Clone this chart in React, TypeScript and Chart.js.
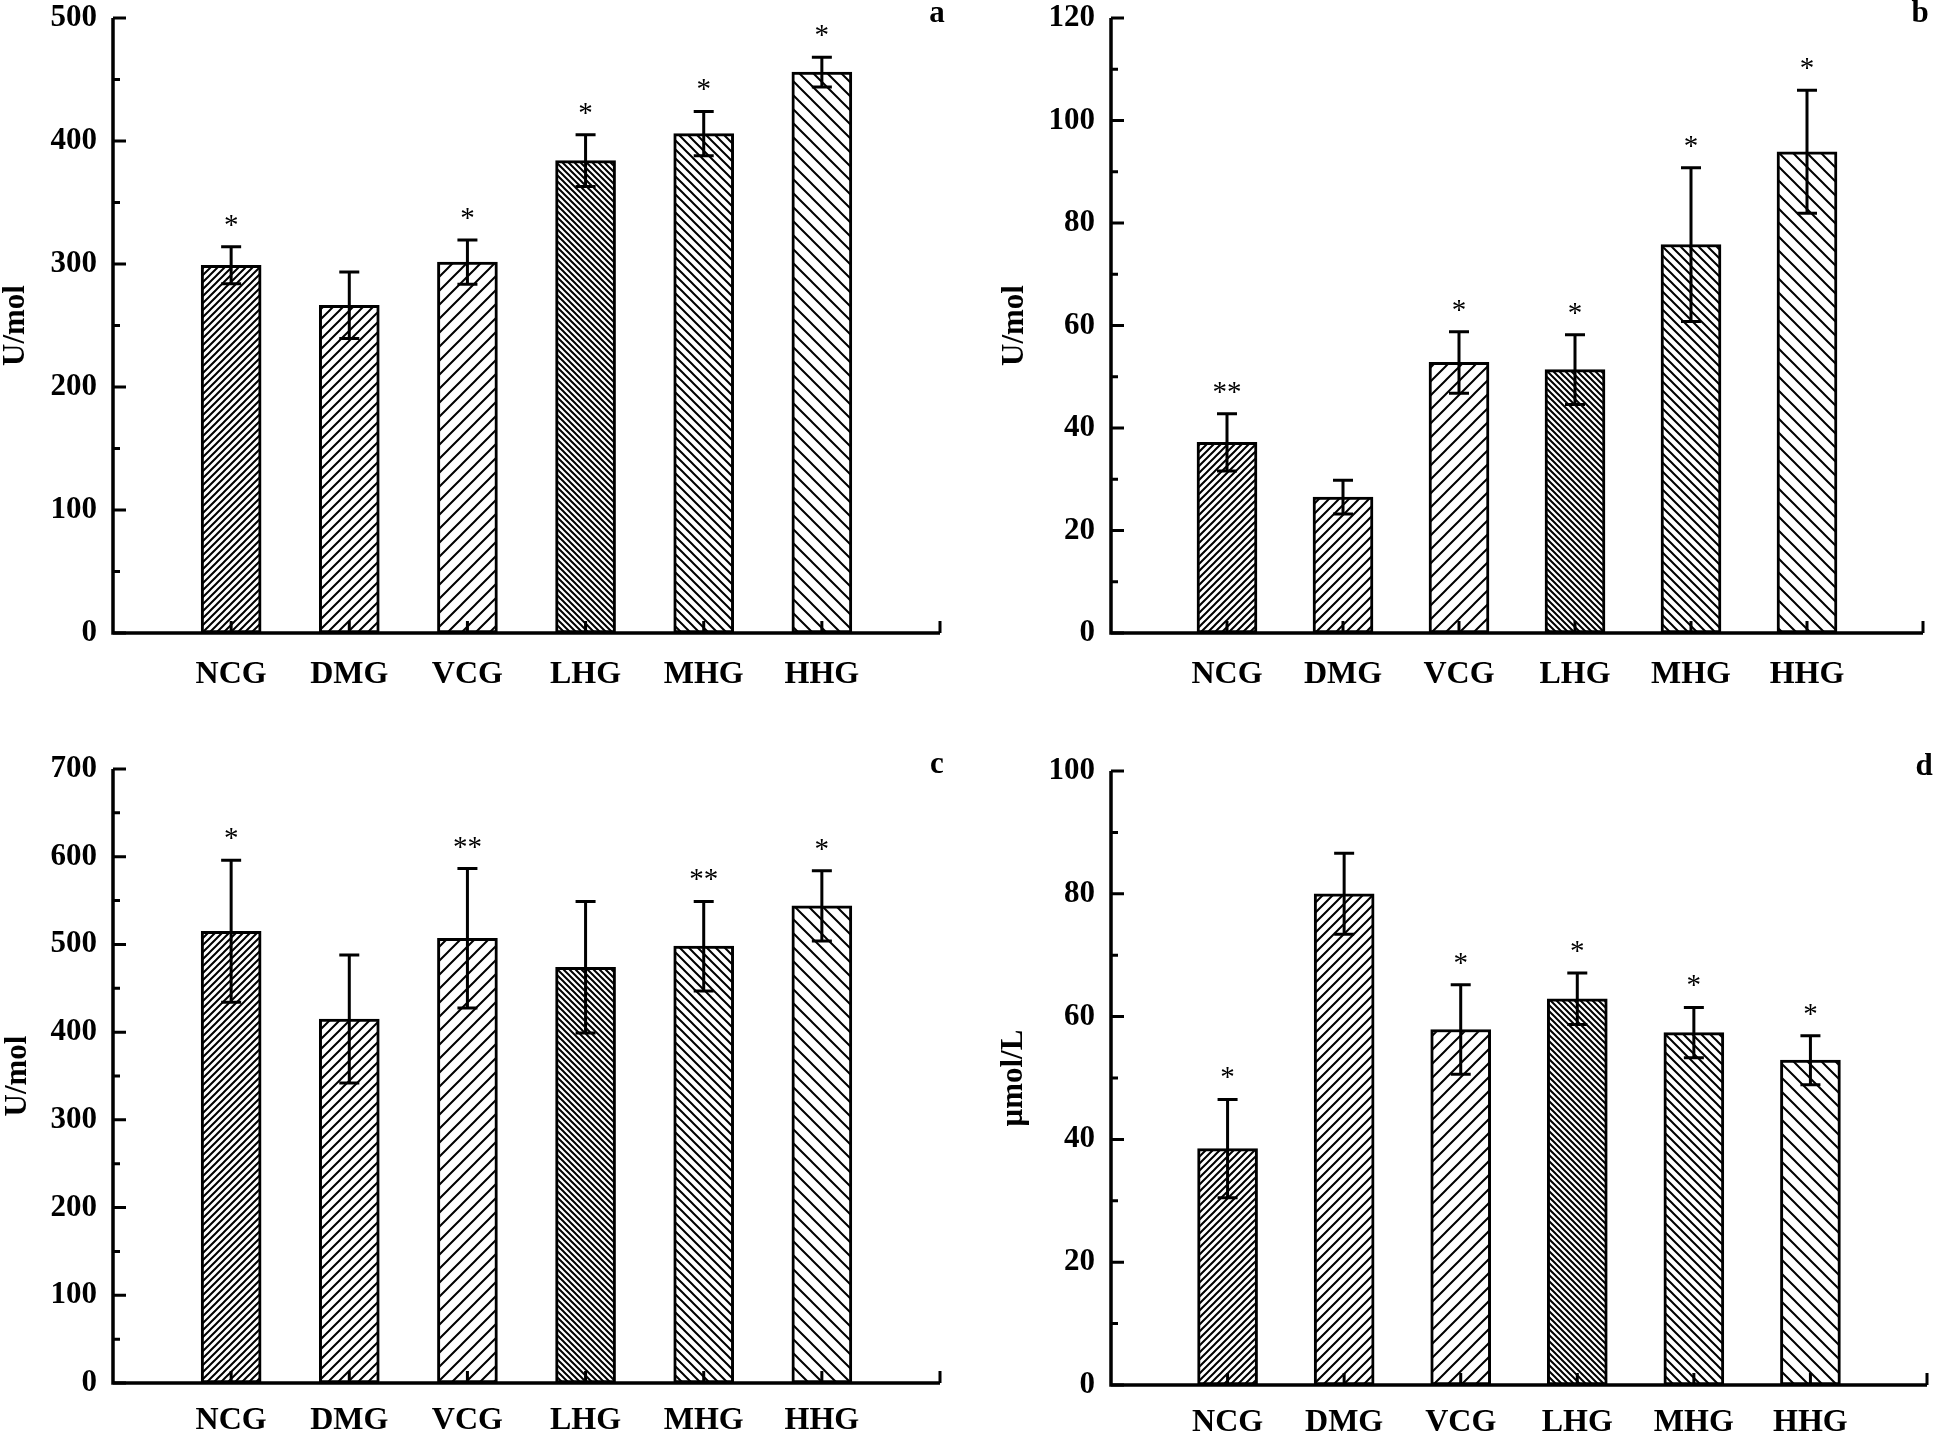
import React, { useEffect, useRef } from 'react';
import { Chart, registerables } from 'chart.js';

Chart.register(...registerables);

const FONT = "'Liberation Serif', 'Times New Roman', serif";

// ---- data ----
const groups = ['NCG', 'DMG', 'VCG', 'LHG', 'MHG', 'HHG'];
const axisLabels = ['', ...groups, ''];

const aMeans = [299, 266.5, 301.5, 384, 406, 456];
const aErrors = [15, 27, 18, 21, 18, 12];
const aMarks = ['*', '', '*', '*', '*', '*'];
const aTicks = [0, 100, 200, 300, 400, 500];

const bMeans = [37.2, 26.5, 52.8, 51.4, 75.8, 93.9];
const bErrors = [5.6, 3.3, 6, 6.8, 15, 12];
const bMarks = ['**', '', '*', '*', '*', '*'];
const bTicks = [0, 20, 40, 60, 80, 100, 120];

const cMeans = [515, 415, 507, 474, 498, 544];
const cErrors = [81, 73, 79.5, 75, 51, 40];
const cMarks = ['*', '', '**', '', '**', '*'];
const cTicks = [0, 100, 200, 300, 400, 500, 600, 700];

const dMeans = [38.5, 80, 57.9, 62.9, 57.4, 52.9];
const dErrors = [8, 6.6, 7.3, 4.2, 4.1, 4];
const dMarks = ['*', '', '*', '*', '*', '*'];
const dTicks = [0, 20, 40, 60, 80, 100];

// ---- styles ----
const hatchStyles = [
  { dir: 1, gap: 7 },
  { dir: 1, gap: 10 },
  { dir: 1, gap: 14 },
  { dir: -1, gap: 6 },
  { dir: -1, gap: 9 },
  { dir: -1, gap: 14 },
];

function makeHatch(dir: number, gap: number) {
  const c = document.createElement('canvas');
  c.width = gap;
  c.height = gap;
  const g = c.getContext('2d')!;
  g.fillStyle = '#fff';
  g.fillRect(0, 0, gap, gap);
  g.strokeStyle = '#000';
  g.lineWidth = 2;
  g.beginPath();
  for (const o of [-gap, 0, gap]) {
    if (dir > 0) {
      g.moveTo(o - 1, gap + 1);
      g.lineTo(o + gap + 1, -1);
    } else {
      g.moveTo(o - 1, -1);
      g.lineTo(o + gap + 1, gap + 1);
    }
  }
  g.stroke();
  return g.createPattern(c, 'repeat')!;
}

type Spec = {
  letter: string;
  title: string;
  means: number[];
  errors: number[];
  marks: string[];
  ticks: number[];
  minorCount: number;
  left: number;
  top: number;
  width: number;
  height: number;
  areaTop: number;
  areaBottom: number;
  areaRight: number;
  titlePad: number;
  labelPad: number;
};

const specs: Spec[] = [
  { letter: 'a', title: 'U/mol', means: aMeans, errors: aErrors, marks: aMarks, ticks: aTicks, minorCount: 2,
    left: 0, top: -40, width: 973, height: 758, areaTop: 58, areaBottom: 673, areaRight: 940, titlePad: 0, labelPad: 23 },
  { letter: 'b', title: 'U/mol', means: bMeans, errors: bErrors, marks: bMarks, ticks: bTicks, minorCount: 2,
    left: 998, top: -40, width: 948, height: 758, areaTop: 58, areaBottom: 673, areaRight: 940, titlePad: 1, labelPad: 23 },
  { letter: 'c', title: 'U/mol', means: cMeans, errors: cErrors, marks: cMarks, ticks: cTicks, minorCount: 2,
    left: 0, top: 700, width: 973, height: 737, areaTop: 69, areaBottom: 683, areaRight: 940, titlePad: 2, labelPad: 19 },
  { letter: 'd', title: 'μmol/L', means: dMeans, errors: dErrors, marks: dMarks, ticks: dTicks, minorCount: 2,
    left: 998, top: 700, width: 948, height: 737, areaTop: 71, areaBottom: 685, areaRight: 940, titlePad: 0, labelPad: 19 },
];

const AREA_LEFT = 113;

function Panel({ spec }: { spec: Spec }) {
  const ref = useRef<HTMLCanvasElement>(null);

  useEffect(() => {
    const canvas = ref.current!;
    const patterns = hatchStyles.map((h) => makeHatch(h.dir, h.gap));
    const yMax = spec.ticks[spec.ticks.length - 1];
    const yStep = spec.ticks[1] - spec.ticks[0];

    const decor = {
      id: 'decor',
      afterDatasetsDraw(chart: any) {
        const { ctx, chartArea } = chart;
        const x = chart.scales.x;
        const y = chart.scales.y;
        ctx.save();
        ctx.strokeStyle = '#000';
        ctx.fillStyle = '#000';
        ctx.lineCap = 'butt';
        ctx.lineJoin = 'miter';

        // axes
        ctx.lineWidth = 3.5;
        ctx.beginPath();
        ctx.moveTo(chartArea.left, chartArea.top);
        ctx.lineTo(chartArea.left, chartArea.bottom);
        ctx.lineTo(chartArea.right, chartArea.bottom);
        ctx.stroke();

        // y ticks (major + minor), inward
        ctx.lineWidth = 3;
        const minorStep = yStep / spec.minorCount;
        const n = Math.round(yMax / minorStep);
        ctx.beginPath();
        for (let k = 0; k <= n; k++) {
          const v = k * minorStep;
          const py = y.getPixelForValue(v);
          const len = k % spec.minorCount === 0 ? 13 : 7;
          ctx.moveTo(chartArea.left, py);
          ctx.lineTo(chartArea.left + len, py);
        }
        // x ticks, inward
        for (let i = 1; i < axisLabels.length; i++) {
          const px = x.getPixelForValue(i);
          ctx.moveTo(px, chartArea.bottom);
          ctx.lineTo(px, chartArea.bottom - 12);
        }
        ctx.stroke();

        // error bars
        ctx.lineWidth = 3;
        spec.means.forEach((m, i) => {
          const px = x.getPixelForValue(i + 1);
          const hi = y.getPixelForValue(m + spec.errors[i]);
          const lo = y.getPixelForValue(m - spec.errors[i]);
          ctx.beginPath();
          ctx.moveTo(px, hi);
          ctx.lineTo(px, lo);
          ctx.moveTo(px - 10, hi);
          ctx.lineTo(px + 10, hi);
          ctx.moveTo(px - 10, lo);
          ctx.lineTo(px + 10, lo);
          ctx.stroke();
        });

        // significance marks
        ctx.font = `29px ${FONT}`;
        ctx.textAlign = 'center';
        ctx.textBaseline = 'alphabetic';
        spec.means.forEach((m, i) => {
          const mark = spec.marks[i];
          if (!mark) return;
          const px = x.getPixelForValue(i + 1);
          const hi = y.getPixelForValue(m + spec.errors[i]);
          const mt = ctx.measureText(mark);
          const bottomY = hi - 21;
          ctx.fillText(mark, px, bottomY - mt.actualBoundingBoxDescent);
        });

        // panel letter
        ctx.font = `bold 31px ${FONT}`;
        ctx.fillText(spec.letter, chartArea.right - 3, chartArea.top + 4);
        ctx.restore();
      },
    };

    const chart = new Chart(canvas, {
      type: 'bar',
      data: {
        labels: axisLabels,
        datasets: [
          {
            data: [null, ...spec.means, null] as any,
            backgroundColor: ['#fff', ...patterns, '#fff'] as any,
            borderColor: '#000',
            borderWidth: 3,
            borderSkipped: false,
            barThickness: 60,
          },
        ],
      },
      options: {
        responsive: false,
        animation: false,
        devicePixelRatio: 1,
        layout: {
          padding: {
            top: spec.areaTop,
            right: spec.width - spec.areaRight,
            left: 0,
            bottom: 0,
          },
        },
        plugins: {
          legend: { display: false },
          tooltip: { enabled: false },
        },
        scales: {
          x: {
            type: 'category',
            offset: false,
            grid: { display: false, drawTicks: false },
            border: { display: false },
            ticks: {
              autoSkip: false,
              maxRotation: 0,
              minRotation: 0,
              padding: spec.labelPad,
              color: '#000',
              font: { family: FONT, size: 32, weight: 'bold', lineHeight: 1.2 },
            },
            afterFit: (scale: any) => {
              scale.height = spec.height - spec.areaBottom;
            },
          },
          y: {
            min: 0,
            max: yMax,
            grid: { display: false, drawTicks: false },
            border: { display: false },
            ticks: {
              stepSize: yStep,
              padding: 16,
              color: '#000',
              font: { family: FONT, size: 31, weight: 'bold', lineHeight: 1.0 },
            },
            title: {
              display: true,
              text: spec.title,
              color: '#000',
              padding: { top: spec.titlePad, bottom: 0 },
              font: { family: FONT, size: 31, weight: 'bold', lineHeight: 1.0 },
            },
            afterFit: (scale: any) => {
              scale.width = AREA_LEFT;
            },
          },
        },
      } as any,
      plugins: [decor],
    });
    return () => chart.destroy();
  }, [spec]);

  return (
    <canvas
      ref={ref}
      width={spec.width}
      height={spec.height}
      style={{
        position: 'absolute',
        left: spec.left,
        top: spec.top,
        width: spec.width,
        height: spec.height,
      }}
    />
  );
}

export default function App() {
  return (
    <div
      style={{
        position: 'absolute',
        left: 0,
        top: 0,
        width: 1946,
        height: 1437,
        background: '#fff',
        overflow: 'hidden',
      }}
    >
      {specs.map((s) => (
        <Panel key={s.letter} spec={s} />
      ))}
    </div>
  );
}
